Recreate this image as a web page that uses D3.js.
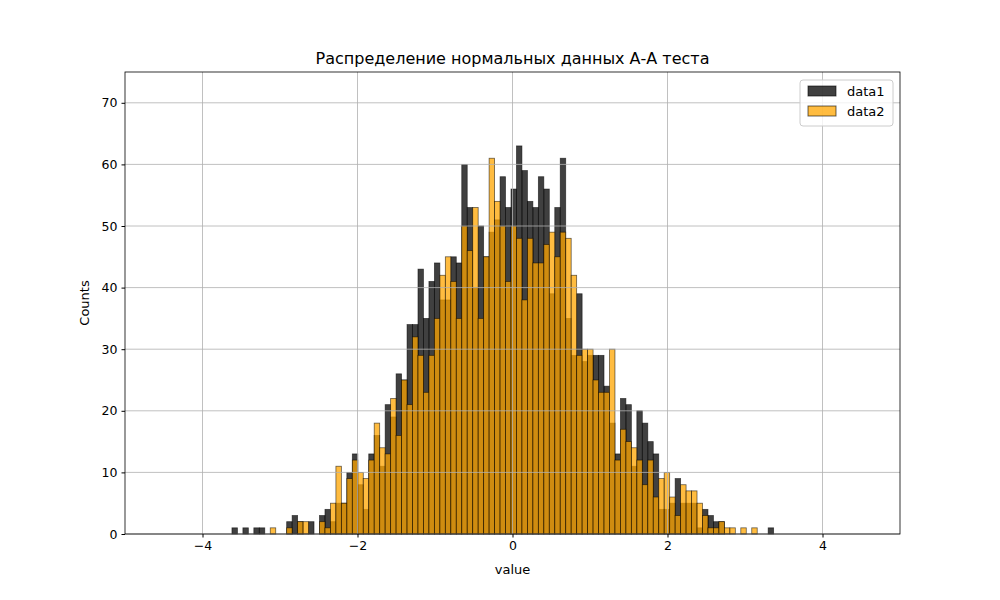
<!DOCTYPE html>
<html><head><meta charset="utf-8">
<script src="https://cdn.jsdelivr.net/npm/d3@7"></script>
<style>body{margin:0;background:#fff;font-family:"DejaVu Sans",sans-serif}</style>
</head><body><svg id="c" width="1000" height="600"></svg>
<script>
const binStart = -3.62, binWidth = 0.0706;
const data1 = [1,0,1,0,1,1,0,0,0,0,2,3,2,0,2,0,3,4,2,5,5,10,13,
 8,4,13,16,11,21,19,26,25,34,34,43,35,41,44,38,38,45,
 44,60,53,40,50,45,49,51,58,53,56,63,59,54,53,58,56,39,53,61,35,29,39,28,29,
 29,29,24,18,13,22,21,11,20,18,15,13,4,4,5,9,5,5,5,1,4,3,2,2,0,0,0,0,0,0,0,0,1];
const data2 = [0,0,0,0,0,0,0,1,0,0,1,0,2,2,0,0,2,1,5,11,5,9,12,
 10,9,12,18,14,13,22,16,25,21,32,29,23,29,35,42,45,41,
 35,50,46,53,35,45,61,54,50,41,50,48,38,48,44,44,47,49,45,49,48,42,29,30,30,
 25,23,23,30,12,17,15,14,12,8,12,6,9,10,6,3,8,7,7,5,3,1,1,2,1,1,0,1,0,1,0,0,0,0];
const xTicks = [-4,-2,0,2,4];
const yTicks = [0,10,20,30,40,50,60,70];
const seriesNames = ["data1","data2"];

const svg = d3.select("#c");
const L=125,R=900,T=72,B=534;
const x = d3.scaleLinear().domain([-5,5]).range([L,R]);
const y = d3.scaleLinear().domain([0,75]).range([B,T]);

function bars(data, fill){
  svg.append("g").selectAll("rect").data(data).join("rect")
    .attr("x",(d,i)=>x(binStart+i*binWidth))
    .attr("width",(d,i)=>x(binStart+(i+1)*binWidth)-x(binStart+i*binWidth))
    .attr("y",d=>y(d)).attr("height",d=>B-y(d))
    .attr("fill",fill).attr("fill-opacity",0.75)
    .attr("stroke","#000").attr("stroke-opacity",0.6).attr("stroke-width",0.8)
    .style("display",d=>d>0?null:"none");
}
bars(data1,"#000000");
bars(data2,"#ffa500");

const g = svg.append("g");
xTicks.forEach(t=>g.append("line").attr("x1",x(t)).attr("x2",x(t)).attr("y1",T).attr("y2",B).attr("stroke","#b0b0b0").attr("stroke-width",0.8));
yTicks.forEach(t=>g.append("line").attr("x1",L).attr("x2",R).attr("y1",y(t)).attr("y2",y(t)).attr("stroke","#b0b0b0").attr("stroke-width",0.8));

const xa = svg.append("g").attr("transform",`translate(0,${B})`).call(d3.axisBottom(x).tickValues(xTicks).tickSize(3.5).tickPadding(4).tickFormat(d=>d<0?"−"+Math.abs(d):d));
const ya = svg.append("g").attr("transform",`translate(${L},0)`).call(d3.axisLeft(y).tickValues(yTicks).tickSize(3.5).tickPadding(4));
[xa,ya].forEach(a=>{a.selectAll("text").attr("font-size",12.5).attr("font-family","DejaVu Sans").attr("fill","#000");a.select(".domain").remove();});
svg.append("rect").attr("x",L).attr("y",T).attr("width",R-L).attr("height",B-T).attr("fill","none").attr("stroke","#000").attr("stroke-width",0.8);

svg.append("text").attr("x",(L+R)/2).attr("y",64).attr("text-anchor","middle").attr("font-size",16).text("Распределение нормальных данных А-А теста");
svg.append("text").attr("x",(L+R)/2).attr("y",574).attr("text-anchor","middle").attr("font-size",13).text("value");
svg.append("text").attr("transform","translate(89,303) rotate(-90)").attr("text-anchor","middle").attr("font-size",13).text("Counts");

const lg = svg.append("g").attr("transform","translate(800,80)");
lg.append("rect").attr("width",93).attr("height",46).attr("rx",3).attr("fill","#fff").attr("fill-opacity",0.8).attr("stroke","#ccc");
[["#000000"],["#ffa500"]].forEach((c,i)=>{
  lg.append("rect").attr("x",8).attr("y",6+i*20).attr("width",28).attr("height",10).attr("fill",c[0]).attr("fill-opacity",0.75).attr("stroke","#000").attr("stroke-opacity",0.6);
  lg.append("text").attr("x",47).attr("y",16+i*20).attr("font-size",13).text(seriesNames[i]);
});
</script></body></html>
